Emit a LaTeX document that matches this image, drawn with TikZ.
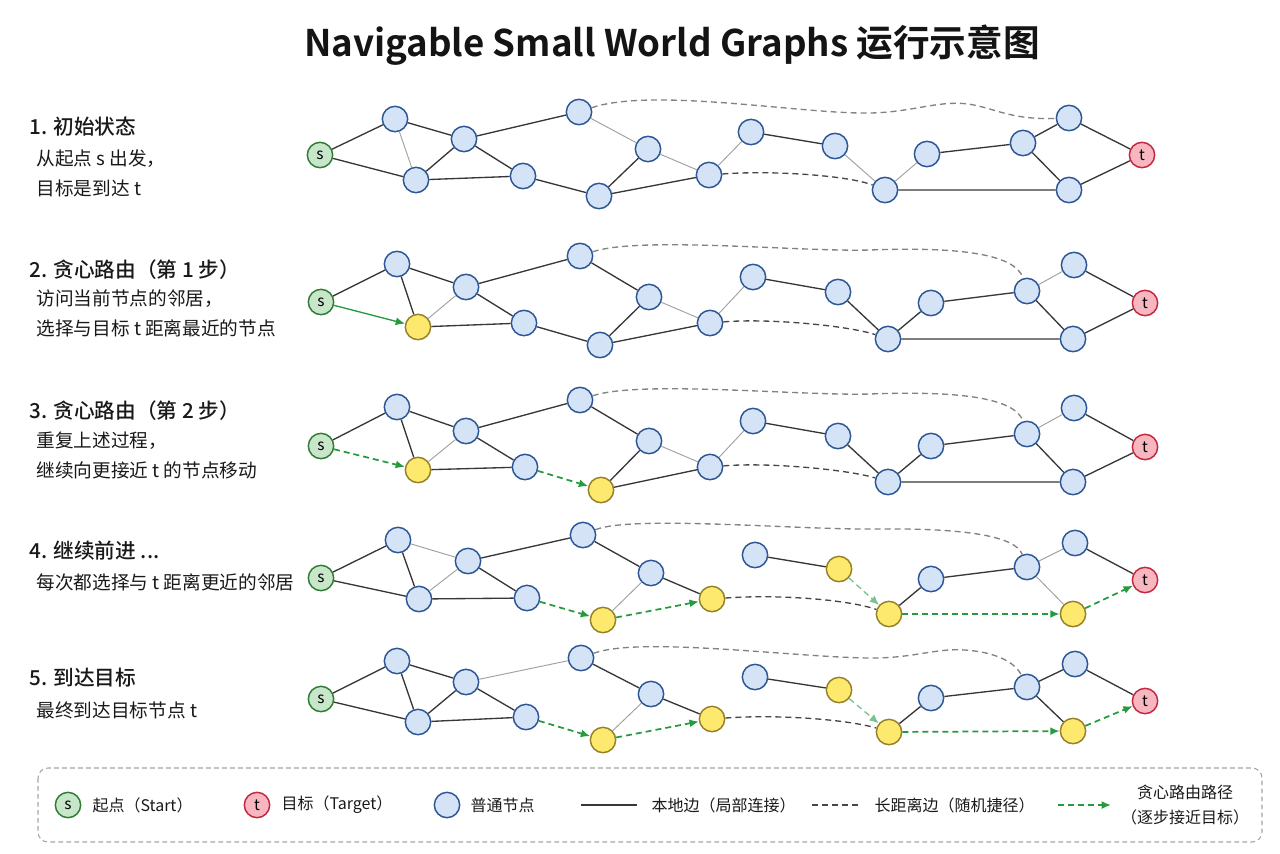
\documentclass[tikz,border=0pt]{standalone}
\usepackage{fontspec}
\setmainfont{Noto Sans CJK SC}
\newfontfamily\headfont{Noto Sans CJK SC Medium}
\newfontfamily\titlefont{Noto Sans CJK SC Bold}
\usetikzlibrary{arrows.meta}

\tikzset{every picture/.style={line width=0.75pt},
  plainnode/.style={circle, draw={rgb, 255:red, 44; green, 86; blue, 150}, fill={rgb, 255:red, 212; green, 227; blue, 245}, line width=1.1pt, minimum size=19pt, inner sep=0pt},
  visitnode/.style={plainnode, draw={rgb, 255:red, 150; green, 128; blue, 40}, fill={rgb, 255:red, 253; green, 233; blue, 110}},
  startnode/.style={plainnode, draw={rgb, 255:red, 46; green, 125; blue, 50}, fill={rgb, 255:red, 200; green, 230; blue, 201}, font=\fontsize{11.5}{13}\selectfont},
  targetnode/.style={plainnode, draw={rgb, 255:red, 196; green, 40; blue, 62}, fill={rgb, 255:red, 248; green, 182; blue, 193}, font=\fontsize{11.5}{13}\selectfont},
  localedge/.style={draw={rgb, 255:red, 55; green, 55; blue, 55}, line width=1pt},
  lightedge/.style={draw={rgb, 255:red, 160; green, 160; blue, 160}, line width=0.7pt},
  longedge/.style={draw={rgb, 255:red, 130; green, 130; blue, 130}, line width=1pt, dash pattern={on 4.5pt off 3pt}},
  darklong/.style={longedge, draw={rgb, 255:red, 70; green, 70; blue, 70}},
  greedy/.style={draw={rgb, 255:red, 38; green, 155; blue, 62}, line width=1.3pt, dash pattern={on 4.5pt off 3pt}, -{Latex[length=7pt,width=6pt]}},
  greedysolid/.style={greedy, solid, line width=1pt},
  greedylight/.style={greedy, draw={rgb, 255:red, 120; green, 195; blue, 140}, line width=1pt},
  steptitle/.style={anchor=west, inner sep=0pt, font=\headfont\fontsize{15.5}{17}\selectfont, text={rgb, 255:red, 25; green, 25; blue, 25}},
  steptext/.style={anchor=west, inner sep=0pt, font=\fontsize{14}{16}\selectfont, text={rgb, 255:red, 25; green, 25; blue, 25}},
  legendtext/.style={anchor=west, inner sep=0pt, font=\fontsize{12}{14}\selectfont, text={rgb, 255:red, 25; green, 25; blue, 25}}
}

\begin{document}
\begin{tikzpicture}[x=0.75pt,y=0.75pt,yscale=-1,xscale=1]
\useasboundingbox (0,0) rectangle (1280,853);

% Text Node
\draw (672,45) node (title) [font=\titlefont\fontsize{27.5}{31}\selectfont, text={rgb, 255:red, 20; green, 20; blue, 20}] {Navigable Small World Graphs 运行示意图};

%Step labels
\draw (29,127) node (h1) [steptitle] {1. 初始状态};
\draw (36,159) node (h1a) [steptext] {从起点 s 出发，};
\draw (36,188) node (h1b) [steptext] {目标是到达 t};
\draw (29,270) node (h2) [steptitle] {2. 贪心路由（第 1 步）};
\draw (36,299) node (h2a) [steptext] {访问当前节点的邻居，};
\draw (36,328) node (h2b) [steptext] {选择与目标 t 距离最近的节点};
\draw (29,411) node (h3) [steptitle] {3. 贪心路由（第 2 步）};
\draw (36,441) node (h3a) [steptext] {重复上述过程，};
\draw (36,470) node (h3b) [steptext] {继续向更接近 t 的节点移动};
\draw (29,551) node (h4) [steptitle] {4. 继续前进 ...};
\draw (36,582) node (h4a) [steptext] {每次都选择与 t 距离更近的邻居};
\draw (29,678) node (h5) [steptitle] {5. 到达目标};
\draw (36,710) node (h5a) [steptext] {最终到达目标节点 t};

%Graph 1
\draw (320,155) node (r1s) [startnode] {s};
\draw (395,119) node (r1a) [plainnode] {};
\draw (464,139) node (r1b) [plainnode] {};
\draw (416,180) node (r1c) [plainnode] {};
\draw (523,176) node (r1d) [plainnode] {};
\draw (579,112) node (r1e) [plainnode] {};
\draw (648,149) node (r1f) [plainnode] {};
\draw (599,196) node (r1g) [plainnode] {};
\draw (709,175) node (r1h) [plainnode] {};
\draw (751,132) node (r1i) [plainnode] {};
\draw (835,146) node (r1j) [plainnode] {};
\draw (927,154) node (r1k) [plainnode] {};
\draw (885,190) node (r1l) [plainnode] {};
\draw (1023,143) node (r1m) [plainnode] {};
\draw (1069,118) node (r1n) [plainnode] {};
\draw (1069,190) node (r1o) [plainnode] {};
\draw (1142,155) node (r1t) [targetnode] {t};
\draw [localedge] (r1s) -- (r1a) (r1s) -- (r1c) (r1a) -- (r1b) (r1b) -- (r1c) (r1b) -- (r1e) (r1b) -- (r1d) (r1c) -- (r1d) (r1d) -- (r1g) (r1f) -- (r1g) (r1g) -- (r1h) (r1i) -- (r1j) (r1k) -- (r1m) (r1m) -- (r1n) (r1m) -- (r1o) (r1l) -- (r1o) (r1n) -- (r1t) (r1o) -- (r1t);
\draw [lightedge] (r1a) -- (r1c) (r1e) -- (r1f) (r1f) -- (r1h) (r1h) -- (r1i) (r1j) -- (r1l) (r1l) -- (r1k);
\draw [longedge] (r1e) .. controls (650,88) and (790,112) .. (860,113) .. controls (910,114) and (935,100) .. (968,104) .. controls (995,108) and (1010,120) .. (r1n);
\draw [darklong] (r1h) .. controls (775,170) and (850,176) .. (r1l);

%Graph 2
\draw (321,302) node (r2s) [startnode] {s};
\draw (397,264) node (r2a) [plainnode] {};
\draw (466,287) node (r2b) [plainnode] {};
\draw (418,327) node (r2c) [visitnode] {};
\draw (524,323) node (r2d) [plainnode] {};
\draw (580,256) node (r2e) [plainnode] {};
\draw (649,297) node (r2f) [plainnode] {};
\draw (600,345) node (r2g) [plainnode] {};
\draw (710,323) node (r2h) [plainnode] {};
\draw (753,277) node (r2i) [plainnode] {};
\draw (838,292) node (r2j) [plainnode] {};
\draw (931,303) node (r2k) [plainnode] {};
\draw (888,339) node (r2l) [plainnode] {};
\draw (1027,291) node (r2m) [plainnode] {};
\draw (1074,265) node (r2n) [plainnode] {};
\draw (1073,339) node (r2o) [plainnode] {};
\draw (1145,303) node (r2t) [targetnode] {t};
\draw [localedge] (r2s) -- (r2a) (r2a) -- (r2b) (r2a) -- (r2c) (r2b) -- (r2e) (r2b) -- (r2d) (r2c) -- (r2d) (r2e) -- (r2f) (r2f) -- (r2g) (r2d) -- (r2g) (r2g) -- (r2h) (r2i) -- (r2j) (r2j) -- (r2l) (r2l) -- (r2k) (r2k) -- (r2m) (r2m) -- (r2o) (r2l) -- (r2o) (r2n) -- (r2t) (r2o) -- (r2t);
\draw [lightedge] (r2b) -- (r2c) (r2f) -- (r2h) (r2h) -- (r2i) (r2m) -- (r2n);
\draw [longedge] (r2e) .. controls (640,236) and (800,252) .. (870,250) .. controls (950,247) and (1015,252) .. (r2m);
\draw [darklong] (r2h) .. controls (770,318) and (850,326) .. (r2l);
\draw [greedysolid] (r2s) -- (r2c);

%Graph 3
\draw (321,446) node (r3s) [startnode] {s};
\draw (397,407) node (r3a) [plainnode] {};
\draw (466,431) node (r3b) [plainnode] {};
\draw (418,470) node (r3c) [visitnode] {};
\draw (525,467) node (r3d) [plainnode] {};
\draw (580,400) node (r3e) [plainnode] {};
\draw (649,441) node (r3f) [plainnode] {};
\draw (601,490) node (r3g) [visitnode] {};
\draw (710,467) node (r3h) [plainnode] {};
\draw (753,421) node (r3i) [plainnode] {};
\draw (838,436) node (r3j) [plainnode] {};
\draw (931,446) node (r3k) [plainnode] {};
\draw (888,482) node (r3l) [plainnode] {};
\draw (1027,434) node (r3m) [plainnode] {};
\draw (1074,408) node (r3n) [plainnode] {};
\draw (1073,482) node (r3o) [plainnode] {};
\draw (1145,447) node (r3t) [targetnode] {t};
\draw [localedge] (r3s) -- (r3a) (r3a) -- (r3b) (r3a) -- (r3c) (r3b) -- (r3e) (r3b) -- (r3d) (r3c) -- (r3d) (r3e) -- (r3f) (r3f) -- (r3g) (r3g) -- (r3h) (r3i) -- (r3j) (r3j) -- (r3l) (r3l) -- (r3k) (r3k) -- (r3m) (r3m) -- (r3o) (r3l) -- (r3o) (r3n) -- (r3t) (r3o) -- (r3t);
\draw [lightedge] (r3b) -- (r3c) (r3f) -- (r3h) (r3h) -- (r3i) (r3m) -- (r3n);
\draw [longedge] (r3e) .. controls (640,380) and (800,396) .. (870,394) .. controls (950,391) and (1015,396) .. (r3m);
\draw [darklong] (r3h) .. controls (770,462) and (850,470) .. (r3l);
\draw [greedy] (r3s) -- (r3c);
\draw [greedy] (r3d) -- (r3g);

%Graph 4
\draw (321,578) node (r4s) [startnode] {s};
\draw (398,540) node (r4a) [plainnode] {};
\draw (468,561) node (r4b) [plainnode] {};
\draw (419,599) node (r4c) [plainnode] {};
\draw (527,598) node (r4d) [plainnode] {};
\draw (583,535) node (r4e) [plainnode] {};
\draw (651,573) node (r4f) [plainnode] {};
\draw (603,620) node (r4g) [visitnode] {};
\draw (712,599) node (r4h) [visitnode] {};
\draw (755,555) node (r4i) [plainnode] {};
\draw (839,569) node (r4j) [visitnode] {};
\draw (931,579) node (r4k) [plainnode] {};
\draw (889,614) node (r4l) [visitnode] {};
\draw (1027,567) node (r4m) [plainnode] {};
\draw (1075,543) node (r4n) [plainnode] {};
\draw (1073,614) node (r4o) [visitnode] {};
\draw (1145,580) node (r4t) [targetnode] {t};
\draw [localedge] (r4s) -- (r4a) (r4s) -- (r4c) (r4a) -- (r4c) (r4b) -- (r4e) (r4b) -- (r4d) (r4c) -- (r4d) (r4e) -- (r4f) (r4f) -- (r4h) (r4i) -- (r4j) (r4l) -- (r4k) (r4k) -- (r4m) (r4n) -- (r4t);
\draw [lightedge] (r4a) -- (r4b) (r4b) -- (r4c) (r4f) -- (r4g) (r4m) -- (r4n) (r4m) -- (r4o);
\draw [longedge] (r4e) .. controls (630,515) and (800,530) .. (875,529) .. controls (960,528) and (1015,535) .. (r4m);
\draw [darklong] (r4h) .. controls (780,594) and (850,600) .. (r4l);
\draw [greedy] (r4d) -- (r4g);
\draw [greedy] (r4g) -- (r4h);
\draw [greedylight] (r4j) -- (r4l);
\draw [greedy] (r4l) -- (r4o);
\draw [greedy] (r4o) -- (r4t);

%Graph 5
\draw (321,699) node (r5s) [startnode] {s};
\draw (397,661) node (r5a) [plainnode] {};
\draw (466,682) node (r5b) [plainnode] {};
\draw (418,722) node (r5c) [plainnode] {};
\draw (526,717) node (r5d) [plainnode] {};
\draw (581,658) node (r5e) [plainnode] {};
\draw (651,694) node (r5f) [plainnode] {};
\draw (603,740) node (r5g) [visitnode] {};
\draw (712,719) node (r5h) [visitnode] {};
\draw (755,677) node (r5i) [plainnode] {};
\draw (839,690) node (r5j) [visitnode] {};
\draw (931,698) node (r5k) [plainnode] {};
\draw (889,732) node (r5l) [visitnode] {};
\draw (1027,687) node (r5m) [plainnode] {};
\draw (1075,664) node (r5n) [plainnode] {};
\draw (1073,731) node (r5o) [visitnode] {};
\draw (1145,701) node (r5t) [targetnode] {t};
\draw [localedge] (r5s) -- (r5a) (r5s) -- (r5c) (r5a) -- (r5b) (r5a) -- (r5c) (r5b) -- (r5c) (r5b) -- (r5d) (r5c) -- (r5d) (r5e) -- (r5f) (r5f) -- (r5h) (r5i) -- (r5j) (r5l) -- (r5k) (r5k) -- (r5m) (r5m) -- (r5n) (r5m) -- (r5o) (r5n) -- (r5t);
\draw [lightedge] (r5b) -- (r5e) (r5f) -- (r5g);
\draw [longedge] (r5e) .. controls (640,636) and (800,658) .. (872,658) .. controls (915,658) and (935,648) .. (965,650) .. controls (995,652) and (1015,662) .. (r5m);
\draw [darklong] (r5h) .. controls (780,714) and (850,720) .. (r5l);
\draw [greedy] (r5d) -- (r5g);
\draw [greedy] (r5g) -- (r5h);
\draw [greedylight] (r5j) -- (r5l);
\draw [greedy] (r5l) -- (r5o);
\draw [greedy] (r5o) -- (r5t);

%Shape: Legend box
\draw [draw={rgb, 255:red, 165; green, 165; blue, 165}, line width=0.8pt, dash pattern={on 3.5pt off 2.5pt}, rounded corners=7.5pt] (38,768) rectangle (1262,842);
\draw (68,805) node (lgs) [startnode] {s};
\draw (92,805) node (lgstext) [legendtext] {起点（Start）};
\draw (257,805) node (lgt) [targetnode] {t};
\draw (281,805) node (lgttext) [legendtext] {目标（Target）};
\draw (447,805) node (lgn) [plainnode] {};
\draw (470,805) node (lgntext) [legendtext] {普通节点};
\coordinate (lgl1) at (581,805);
\coordinate (lgl2) at (637,805);
\draw [localedge] (lgl1) -- (lgl2);
\draw (651,805) node (lgltext) [legendtext] {本地边（局部连接）};
\coordinate (lgd1) at (812,805);
\coordinate (lgd2) at (858,805);
\draw [darklong] (lgd1) -- (lgd2);
\draw (874,805) node (lgdtext) [legendtext] {长距离边（随机捷径）};
\coordinate (lgg1) at (1058,805);
\coordinate (lgg2) at (1111,805);
\draw [greedy] (lgg1) -- (lgg2);
\draw (1185,805) node (lggtext) [inner sep=0pt, align=center, font=\fontsize{12}{19}\selectfont, text={rgb, 255:red, 25; green, 25; blue, 25}] {贪心路由路径\\（逐步接近目标）};

\end{tikzpicture}
\end{document}
